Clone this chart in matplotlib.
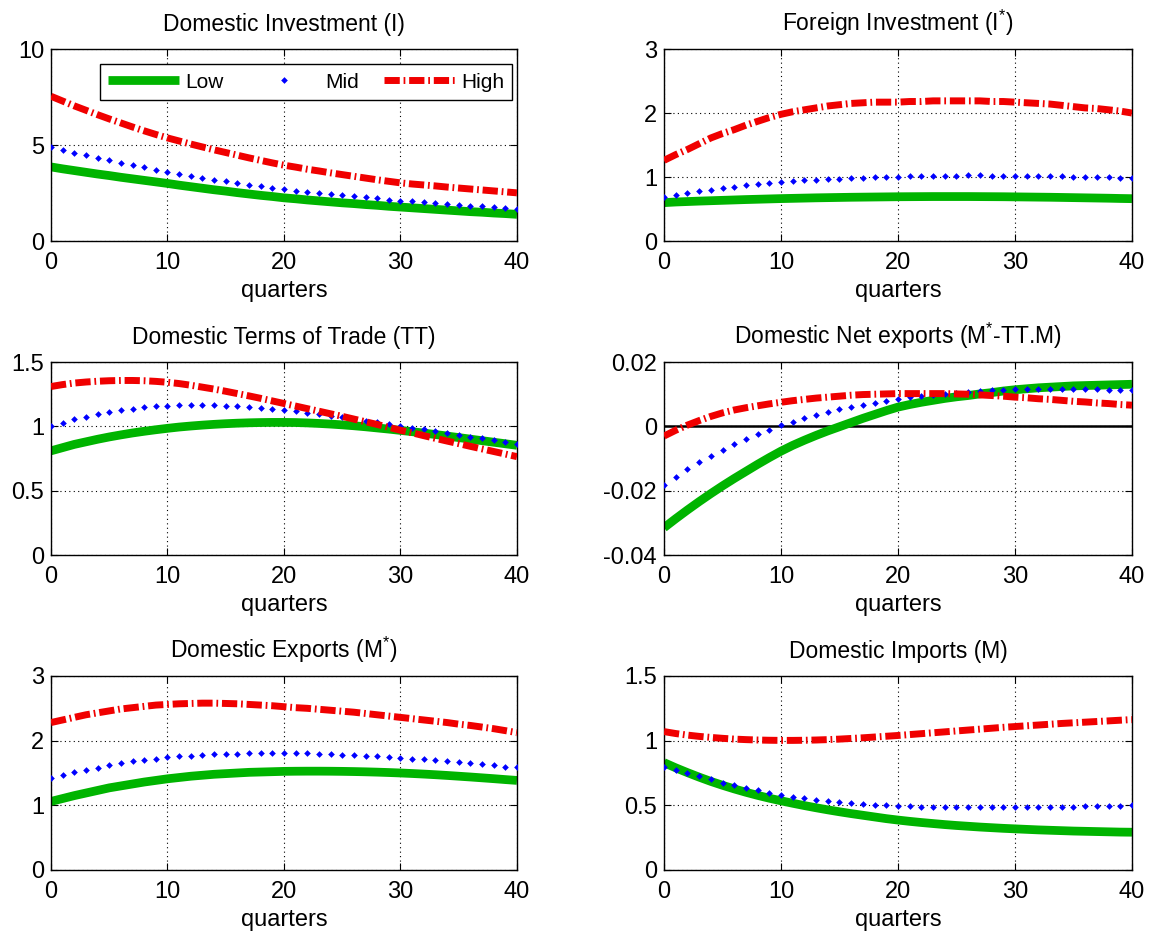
import numpy as np
import matplotlib
matplotlib.use('Agg')
import matplotlib.pyplot as plt
from matplotlib.ticker import FuncFormatter

plt.rcParams['font.family'] = ['Liberation Sans', 'DejaVu Sans']
plt.rcParams['mathtext.default'] = 'regular'

quarters = list(range(41))

# Domestic Investment (I)
inv_low = [3.86, 3.76, 3.67, 3.58, 3.49, 3.41, 3.32, 3.24, 3.16, 3.08, 3.00,
           2.91, 2.83, 2.75, 2.67, 2.60, 2.52, 2.45, 2.38, 2.32, 2.25,
           2.20, 2.14, 2.09, 2.04, 1.99, 1.95, 1.90, 1.86, 1.81, 1.77,
           1.73, 1.69, 1.65, 1.61, 1.57, 1.53, 1.50, 1.46, 1.43, 1.39]
inv_mid = [4.90, 4.75, 4.61, 4.47, 4.33, 4.20, 4.07, 3.95, 3.83, 3.71, 3.60,
           3.50, 3.40, 3.30, 3.20, 3.11, 3.02, 2.93, 2.85, 2.77, 2.69,
           2.63, 2.56, 2.50, 2.44, 2.38, 2.33, 2.27, 2.22, 2.16, 2.11,
           2.06, 2.02, 1.97, 1.93, 1.88, 1.84, 1.80, 1.76, 1.72, 1.68]
inv_high = [7.54, 7.29, 7.04, 6.81, 6.58, 6.36, 6.15, 5.94, 5.74, 5.55, 5.37,
            5.21, 5.05, 4.90, 4.75, 4.61, 4.47, 4.33, 4.20, 4.07, 3.95,
            3.85, 3.74, 3.65, 3.55, 3.46, 3.37, 3.28, 3.19, 3.11, 3.03,
            2.97, 2.92, 2.87, 2.81, 2.76, 2.71, 2.66, 2.61, 2.56, 2.51]

# Foreign Investment (I*)
finv_low = [0.600, 0.610, 0.617, 0.624, 0.630, 0.636, 0.642, 0.648, 0.653, 0.658, 0.663,
            0.667, 0.671, 0.675, 0.678, 0.681, 0.684, 0.686, 0.688, 0.690, 0.692,
            0.693, 0.694, 0.695, 0.695, 0.695, 0.695, 0.694, 0.693, 0.692, 0.690,
            0.688, 0.686, 0.684, 0.681, 0.678, 0.675, 0.672, 0.669, 0.665, 0.662]
finv_mid = [0.690, 0.720, 0.750, 0.780, 0.800, 0.830, 0.850, 0.870, 0.890, 0.905, 0.920,
            0.935, 0.947, 0.958, 0.968, 0.977, 0.985, 0.992, 0.998, 1.003, 1.008,
            1.012, 1.016, 1.019, 1.021, 1.023, 1.024, 1.024, 1.023, 1.022, 1.020,
            1.018, 1.015, 1.012, 1.009, 1.005, 1.001, 0.997, 0.993, 0.988, 0.983]
finv_high = [1.26, 1.35, 1.43, 1.52, 1.61, 1.68, 1.74, 1.81, 1.87, 1.93, 1.98,
             2.02, 2.05, 2.08, 2.11, 2.13, 2.15, 2.16, 2.17, 2.17, 2.17,
             2.18, 2.18, 2.19, 2.19, 2.19, 2.19, 2.19, 2.18, 2.18, 2.17,
             2.16, 2.15, 2.14, 2.12, 2.10, 2.08, 2.07, 2.05, 2.03, 2.00]

# Domestic Terms of Trade (TT)
tt_low = [0.810, 0.835, 0.860, 0.880, 0.900, 0.918, 0.934, 0.949, 0.962, 0.974, 0.985,
          0.995, 1.003, 1.010, 1.016, 1.021, 1.025, 1.028, 1.030, 1.031, 1.031,
          1.030, 1.027, 1.023, 1.018, 1.012, 1.005, 0.997, 0.988, 0.979, 0.969,
          0.959, 0.948, 0.937, 0.925, 0.913, 0.901, 0.889, 0.877, 0.865, 0.853]
tt_mid = [1.000, 1.030, 1.055, 1.075, 1.095, 1.110, 1.125, 1.137, 1.147, 1.155, 1.160,
          1.163, 1.165, 1.165, 1.163, 1.160, 1.156, 1.150, 1.143, 1.135, 1.126,
          1.116, 1.105, 1.094, 1.082, 1.070, 1.057, 1.044, 1.031, 1.018, 1.005,
          0.991, 0.977, 0.963, 0.949, 0.935, 0.921, 0.906, 0.891, 0.876, 0.860]
tt_high = [1.310, 1.325, 1.337, 1.345, 1.351, 1.355, 1.357, 1.357, 1.355, 1.350, 1.343,
           1.333, 1.320, 1.305, 1.290, 1.273, 1.255, 1.237, 1.218, 1.198, 1.178,
           1.158, 1.138, 1.118, 1.098, 1.078, 1.057, 1.036, 1.015, 0.993, 0.970,
           0.950, 0.928, 0.907, 0.886, 0.866, 0.845, 0.825, 0.805, 0.785, 0.765]

# Domestic Net exports (M*-TT.M)
nx_low = [-0.0315, -0.0287, -0.0260, -0.0234, -0.0209, -0.0185, -0.0162, -0.0140, -0.0118, -0.0097, -0.0077,
          -0.0059, -0.0043, -0.0028, -0.0014, -0.0001, 0.0012, 0.0025, 0.0037, 0.0049, 0.0060,
          0.0068, 0.0075, 0.0081, 0.0087, 0.0092, 0.0096, 0.0101, 0.0105, 0.0110, 0.0114,
          0.0117, 0.0120, 0.0122, 0.0124, 0.0126, 0.0127, 0.0128, 0.0129, 0.0130, 0.0131]
nx_mid = [-0.0182, -0.0157, -0.0134, -0.0112, -0.0092, -0.0073, -0.0055, -0.0039, -0.0024, -0.0010, 0.0003,
          0.0015, 0.0026, 0.0036, 0.0045, 0.0053, 0.0061, 0.0068, 0.0074, 0.0080, 0.0085,
          0.0090, 0.0094, 0.0098, 0.0102, 0.0105, 0.0108, 0.0110, 0.0112, 0.0114, 0.0115,
          0.0116, 0.0117, 0.0117, 0.0117, 0.0117, 0.0116, 0.0115, 0.0114, 0.0113, 0.0112]
nx_high = [-0.0030, -0.0012, 0.0004, 0.0018, 0.0031, 0.0042, 0.0051, 0.0058, 0.0064, 0.0070, 0.0075,
           0.0080, 0.0084, 0.0088, 0.0091, 0.0094, 0.0097, 0.0099, 0.0100, 0.0101, 0.0102,
           0.0102, 0.0102, 0.0102, 0.0102, 0.0101, 0.0100, 0.0098, 0.0096, 0.0094, 0.0091,
           0.0089, 0.0086, 0.0084, 0.0081, 0.0078, 0.0076, 0.0073, 0.0071, 0.0068, 0.0066]

# Domestic Exports (M*)
ex_low = [1.060, 1.105, 1.150, 1.190, 1.230, 1.270, 1.300, 1.330, 1.360, 1.385, 1.410,
          1.430, 1.450, 1.465, 1.480, 1.490, 1.500, 1.510, 1.515, 1.520, 1.525,
          1.527, 1.528, 1.528, 1.527, 1.525, 1.522, 1.518, 1.513, 1.507, 1.500,
          1.492, 1.483, 1.473, 1.462, 1.450, 1.438, 1.425, 1.412, 1.398, 1.385]
ex_mid = [1.430, 1.470, 1.510, 1.550, 1.580, 1.620, 1.650, 1.680, 1.700, 1.720, 1.740,
          1.755, 1.770, 1.780, 1.790, 1.795, 1.800, 1.805, 1.810, 1.810, 1.810,
          1.810, 1.805, 1.800, 1.795, 1.785, 1.775, 1.765, 1.755, 1.745, 1.735,
          1.720, 1.710, 1.695, 1.680, 1.665, 1.650, 1.635, 1.620, 1.600, 1.585]
ex_high = [2.280, 2.320, 2.360, 2.400, 2.430, 2.460, 2.490, 2.510, 2.530, 2.550, 2.560,
           2.570, 2.575, 2.580, 2.580, 2.575, 2.570, 2.560, 2.550, 2.540, 2.525,
           2.510, 2.500, 2.485, 2.470, 2.455, 2.440, 2.420, 2.400, 2.380, 2.360,
           2.340, 2.320, 2.300, 2.280, 2.255, 2.235, 2.210, 2.185, 2.155, 2.125]

# Domestic Imports (M)
im_low = [0.830, 0.790, 0.753, 0.718, 0.685, 0.655, 0.627, 0.601, 0.577, 0.555, 0.535,
          0.516, 0.498, 0.481, 0.465, 0.450, 0.436, 0.423, 0.410, 0.397, 0.386,
          0.376, 0.367, 0.359, 0.351, 0.344, 0.338, 0.332, 0.327, 0.322, 0.318,
          0.314, 0.310, 0.307, 0.304, 0.301, 0.299, 0.297, 0.295, 0.293, 0.292]
im_mid = [0.800, 0.775, 0.750, 0.725, 0.700, 0.676, 0.655, 0.635, 0.615, 0.597, 0.580,
          0.566, 0.553, 0.541, 0.531, 0.522, 0.515, 0.509, 0.503, 0.499, 0.495,
          0.492, 0.490, 0.488, 0.487, 0.486, 0.485, 0.485, 0.485, 0.485, 0.485,
          0.486, 0.487, 0.488, 0.489, 0.490, 0.492, 0.494, 0.496, 0.498, 0.500]
im_high = [1.070, 1.055, 1.043, 1.033, 1.025, 1.018, 1.012, 1.008, 1.005, 1.003, 1.002,
           1.002, 1.003, 1.005, 1.008, 1.012, 1.017, 1.022, 1.028, 1.034, 1.040,
           1.047, 1.054, 1.061, 1.068, 1.075, 1.082, 1.089, 1.096, 1.103, 1.109,
           1.115, 1.121, 1.127, 1.133, 1.138, 1.143, 1.148, 1.153, 1.158, 1.163]

panels = [
    ('Domestic Investment (I)', inv_low, inv_mid, inv_high, [0, 5, 10]),
    ('Foreign Investment (I$^{*}$)', finv_low, finv_mid, finv_high, [0, 1, 2, 3]),
    ('Domestic Terms of Trade (TT)', tt_low, tt_mid, tt_high, [0, 0.5, 1, 1.5]),
    ('Domestic Net exports (M$^{*}$-TT.M)', nx_low, nx_mid, nx_high, [-0.04, -0.02, 0, 0.02]),
    ('Domestic Exports (M$^{*}$)', ex_low, ex_mid, ex_high, [0, 1, 2, 3]),
    ('Domestic Imports (M)', im_low, im_mid, im_high, [0, 0.5, 1, 1.5]),
]

col_x = [(0.0441, 0.4031), (0.5744, 0.4048)]
row_y = [(0.7433, 0.2045), (0.4089, 0.2055), (0.0735, 0.2066)]

GREEN = '#00b400'
RED = '#f00000'
BLUE = '#0000ff'
TICK_FS = 17
TITLE_FS = 16.5

fig = plt.figure(figsize=(11.56, 9.39), dpi=100)

for i, (title, low, mid, high, yticks) in enumerate(panels):
    r, c = divmod(i, 2)
    ax = fig.add_axes([col_x[c][0], row_y[r][0], col_x[c][1], row_y[r][1]])

    if title.startswith('Domestic Net'):
        ax.axhline(0, color='black', lw=1.8, zorder=1)

    ax.plot(quarters, low, color=GREEN, lw=6.3, solid_capstyle='butt', label='Low', zorder=2)
    ax.plot(quarters, mid, color=BLUE, ls='none', marker='D', ms=3.4, mew=0, label='Mid', zorder=3)
    ax.plot(quarters, high, color=RED, lw=5, ls=(0, (2.2, 0.55, 0.25, 0.55)),
            dash_capstyle='butt', label='High', zorder=4)

    ax.set_xlim(0, 40)
    ax.set_ylim(yticks[0], yticks[-1])
    ax.set_xticks([0, 10, 20, 30, 40])
    ax.set_yticks(yticks)
    ax.yaxis.set_major_formatter(FuncFormatter(lambda v, p: '%g' % v))
    ax.grid(True, color='black', ls=(0, (1, 3)), lw=0.8)
    ax.tick_params(direction='in', length=5, width=0.8, labelsize=TICK_FS,
                   top=True, right=True, pad=5)
    ax.tick_params(axis='x', pad=8)
    for s in ax.spines.values():
        s.set_linewidth(1.0)
    ax.set_title(title, fontsize=TITLE_FS, pad=13)
    ax.set_xlabel('quarters', fontsize=TICK_FS, labelpad=4)

    if i == 0:
        ax.legend(loc='lower left', bbox_to_anchor=(0.105, 0.734, 0.885, 0.193),
                  mode='expand', ncol=3, fontsize=15, frameon=True,
                  fancybox=False, edgecolor='black', framealpha=1,
                  handlelength=3.4, borderaxespad=0, columnspacing=0.6,
                  handletextpad=0.3, borderpad=0.4)

fig.savefig('out.png', dpi=100)
